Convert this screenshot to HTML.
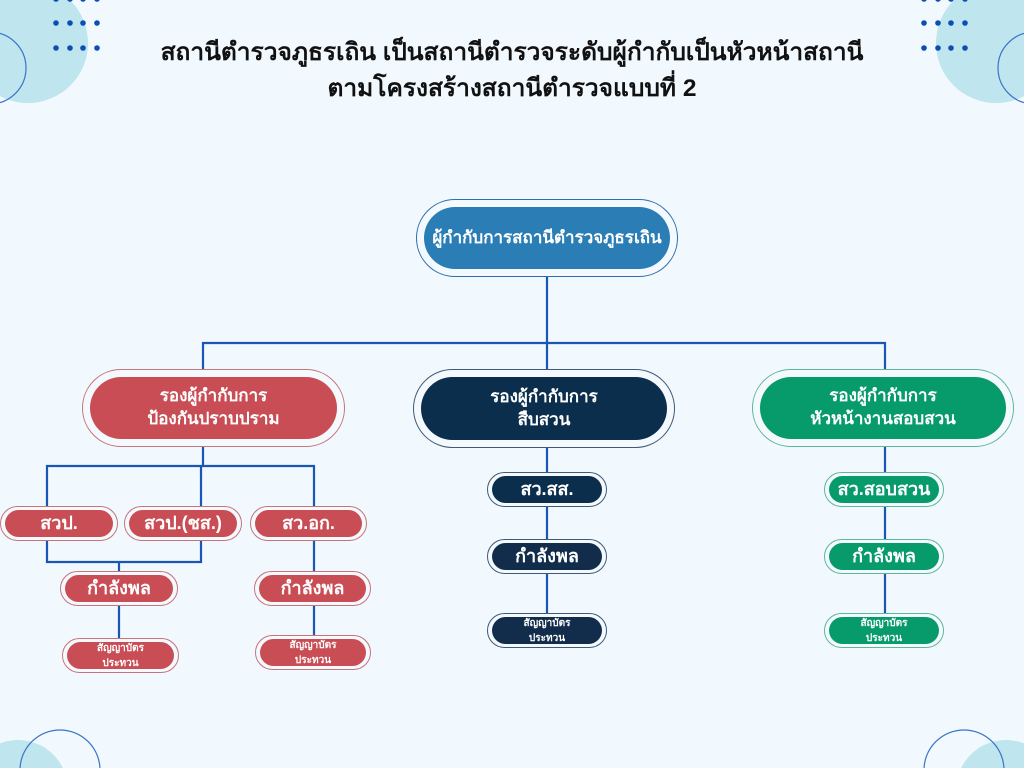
<!DOCTYPE html>
<html><head><meta charset="utf-8"><style>
html,body{margin:0;padding:0;width:1024px;height:768px;overflow:hidden}
body{position:relative;background:#f1f8fe;font-family:"Liberation Sans","Noto Sans CJK SC","WenQuanYi Zen Hei",sans-serif}
svg{display:block}
.o{position:absolute;box-sizing:border-box;border:1.5px solid;border-radius:999px;background:#f4f9fd}
.i{position:absolute;left:6px;right:6px;top:5px;bottom:5px;border-radius:999px;color:#fff;font-weight:bold;display:flex;align-items:center;justify-content:center;text-align:center;line-height:1.35}
.r{border-color:#c7737a}.r .i{background:#c94d55}
.n{border-color:#3e5a78}.n .i{background:#0b2e4c}
.g{border-color:#5cb89a}.g .i{background:#079a6a}
.b{border-color:#2a6fae}.b .i{background:#2a7db5}
.t{position:absolute;left:0;width:1024px;text-align:center;font-weight:bold;font-size:24.5px;color:#111;line-height:30px}
.s{font-size:10px!important;line-height:1.5!important}
</style></head><body>
<svg width="1024" height="768" style="position:absolute;left:0;top:0">
<circle cx="28" cy="43" r="60" fill="#bfe5ee"/>
<circle cx="-10" cy="68" r="36" fill="none" stroke="#3a74c8" stroke-width="1.2"/>
<circle cx="996" cy="43" r="60" fill="#bfe5ee"/>
<circle cx="1034" cy="68" r="36" fill="none" stroke="#3a74c8" stroke-width="1.2"/>
<circle cx="18" cy="790" r="50" fill="#bfe5ee"/>
<circle cx="60" cy="770" r="40" fill="none" stroke="#3a74c8" stroke-width="1.2"/>
<circle cx="1006" cy="790" r="50" fill="#bfe5ee"/>
<circle cx="964" cy="770" r="40" fill="none" stroke="#3a74c8" stroke-width="1.2"/>
<g fill="#0a4fb5">
<circle cx="56" cy="-1" r="2.8"/><circle cx="70" cy="-1" r="2.8"/><circle cx="83" cy="-1" r="2.8"/><circle cx="97" cy="-1" r="2.8"/>
<circle cx="56" cy="23" r="2.8"/><circle cx="70" cy="23" r="2.8"/><circle cx="83" cy="23" r="2.8"/><circle cx="97" cy="23" r="2.8"/>
<circle cx="56" cy="48" r="2.8"/><circle cx="70" cy="48" r="2.8"/><circle cx="83" cy="48" r="2.8"/><circle cx="97" cy="48" r="2.8"/>
<circle cx="924" cy="-1" r="2.8"/><circle cx="938" cy="-1" r="2.8"/><circle cx="951" cy="-1" r="2.8"/><circle cx="965" cy="-1" r="2.8"/>
<circle cx="924" cy="23" r="2.8"/><circle cx="938" cy="23" r="2.8"/><circle cx="951" cy="23" r="2.8"/><circle cx="965" cy="23" r="2.8"/>
<circle cx="924" cy="48" r="2.8"/><circle cx="938" cy="48" r="2.8"/><circle cx="951" cy="48" r="2.8"/><circle cx="965" cy="48" r="2.8"/>
</g>
<g stroke="#1a56b5" stroke-width="2.2" fill="none">
<path d="M547 277V640"/>
<path d="M203 369V343H885V369"/>
<path d="M885 446V620"/>
<path d="M203 446V466H314V506"/>
<path d="M47 506V466H203"/>
<path d="M201 466V506"/>
<path d="M47 540V562H201V540"/>
<path d="M119 562V640"/>
<path d="M314 540V640"/>
</g>
</svg>
<div class="t" style="top:38px">สถานีตำรวจภูธรเถิน เป็นสถานีตำรวจระดับผู้กำกับเป็นหัวหน้าสถานี</div>
<div class="t" style="top:74px">ตามโครงสร้างสถานีตำรวจแบบที่ 2</div>

<div class="o b" style="left:416px;top:199px;width:262px;height:78px"><div class="i" style="left:7px;right:7px;top:7px;bottom:7px;font-size:17px">ผู้กำกับการสถานีตำรวจภูธรเถิน</div></div>

<div class="o r" style="left:82px;top:369px;width:263px;height:78px"><div class="i" style="left:7px;right:7px;top:7px;bottom:7px;font-size:17px">รองผู้กำกับการ<br>ป้องกันปราบปราม</div></div>
<div class="o n" style="left:413px;top:369px;width:262px;height:79px"><div class="i" style="left:7px;right:7px;top:7px;bottom:7px;font-size:17px">รองผู้กำกับการ<br>สืบสวน</div></div>
<div class="o g" style="left:752px;top:369px;width:262px;height:78px"><div class="i" style="left:7px;right:7px;top:7px;bottom:7px;font-size:17px">รองผู้กำกับการ<br>หัวหน้างานสอบสวน</div></div>

<div class="o r" style="left:0px;top:506px;width:118px;height:35px"><div class="i" style="left:4px;right:4px;top:3px;bottom:3px;font-size:18px">สวป.</div></div>
<div class="o r" style="left:124px;top:506px;width:118px;height:35px"><div class="i" style="left:4px;right:4px;top:3px;bottom:3px;font-size:18px">สวป.(ชส.)</div></div>
<div class="o r" style="left:250px;top:506px;width:117px;height:35px"><div class="i" style="left:4px;right:4px;top:3px;bottom:3px;font-size:18px">สว.อก.</div></div>
<div class="o r" style="left:60px;top:571px;width:118px;height:35px"><div class="i" style="left:4px;right:4px;top:3px;bottom:3px;font-size:18px">กำลังพล</div></div>
<div class="o r" style="left:254px;top:571px;width:117px;height:35px"><div class="i" style="left:4px;right:4px;top:3px;bottom:3px;font-size:18px">กำลังพล</div></div>
<div class="o r" style="left:62px;top:638px;width:117px;height:35px"><div class="i s" style="left:4px;right:4px;top:3px;bottom:3px">สัญญาบัตร<br>ประทวน</div></div>
<div class="o r" style="left:255px;top:635px;width:116px;height:35px"><div class="i s" style="left:4px;right:4px;top:3px;bottom:3px">สัญญาบัตร<br>ประทวน</div></div>

<div class="o n" style="left:487px;top:472px;width:120px;height:35px"><div class="i" style="left:4px;right:4px;top:3px;bottom:3px;font-size:18px">สว.สส.</div></div>
<div class="o n" style="left:487px;top:539px;width:120px;height:35px"><div class="i" style="left:4px;right:4px;top:3px;bottom:3px;font-size:18px;background:#122c4c">กำลังพล</div></div>
<div class="o n" style="left:487px;top:613px;width:120px;height:35px"><div class="i s" style="left:4px;right:4px;top:3px;bottom:3px;background:#122c4c">สัญญาบัตร<br>ประทวน</div></div>

<div class="o g" style="left:824px;top:472px;width:120px;height:35px"><div class="i" style="left:4px;right:4px;top:3px;bottom:3px;font-size:18px">สว.สอบสวน</div></div>
<div class="o g" style="left:824px;top:539px;width:120px;height:35px"><div class="i" style="left:4px;right:4px;top:3px;bottom:3px;font-size:18px">กำลังพล</div></div>
<div class="o g" style="left:824px;top:613px;width:120px;height:35px"><div class="i s" style="left:4px;right:4px;top:3px;bottom:3px">สัญญาบัตร<br>ประทวน</div></div>
</body></html>
